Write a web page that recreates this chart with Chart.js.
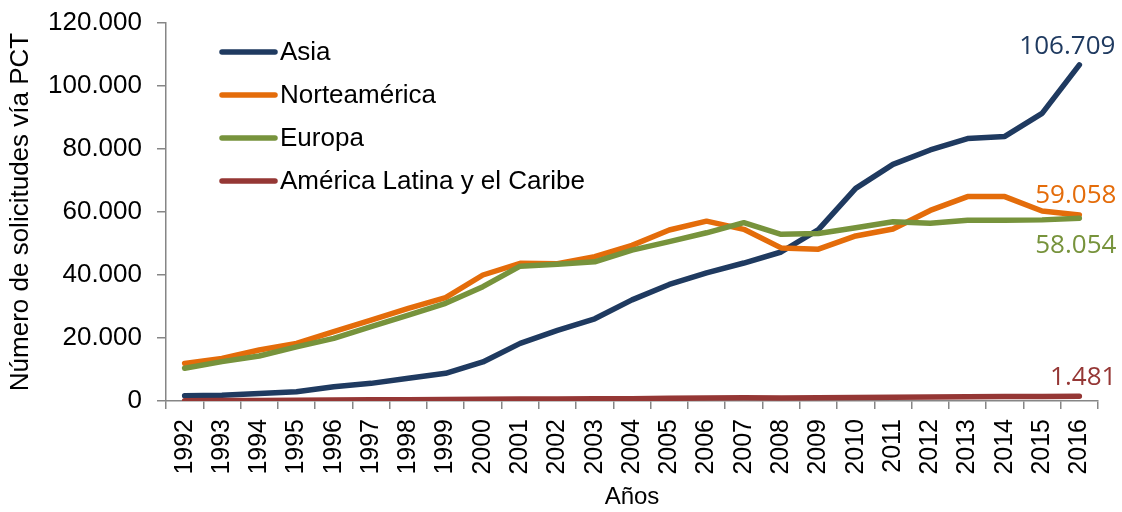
<!DOCTYPE html>
<html>
<head>
<meta charset="utf-8">
<script src="https://cdn.jsdelivr.net/npm/chart.js@4/dist/chart.umd.min.js"></script>
<style>
  html, body { margin: 0; padding: 0; background: #fff; }
  #wrap { width: 1122px; height: 512px; }
</style>
</head>
<body>
<div id="wrap"><canvas id="grafico" width="1122" height="512"></canvas></div>
<script>
const anios = ["1992","1993","1994","1995","1996","1997","1998","1999","2000","2001","2002","2003",
  "2004","2005","2006","2007","2008","2009","2010","2011","2012","2013","2014","2015","2016"];

const asia = [1700, 1800, 2400, 2950, 4500, 5600, 7200, 8800, 12400, 18300, 22400, 26100,
  32100, 37000, 40700, 43800, 47300, 54400, 67500, 75100, 79700, 83300, 84000, 91300, 106709];
const norteamerica = [11950, 13500, 16200, 18300, 22000, 25700, 29400, 32800, 40000, 43700, 43600, 45800,
  49400, 54300, 57100, 54500, 48600, 48200, 52400, 54600, 60500, 64900, 64900, 60300, 59058];
const europa = [10400, 12500, 14300, 17200, 19900, 23600, 27300, 31000, 36300, 42800, 43400, 44200,
  47900, 50600, 53400, 56600, 52900, 53200, 55000, 56900, 56400, 57400, 57400, 57500, 58054];
const latam = [100, 130, 170, 220, 300, 380, 420, 480, 550, 600, 620, 680,
  750, 860, 970, 1030, 980, 1020, 1080, 1200, 1250, 1350, 1400, 1420, 1481];

const series = ["Asia", "Norteamérica", "Europa", "América Latina y el Caribe"];
const colores = ["#1F3A60", "#E46C0A", "#77933C", "#953735"];

const miles = v => String(Math.round(v)).replace(/\B(?=(\d{3})+(?!\d))/g, ".");

// etiqueta del ultimo valor de cada serie
const etiquetas = {
  id: "etiquetas",
  afterDatasetsDraw(chart, args, opts) {
    const ctx = chart.ctx;
    ctx.save();
    ctx.font = "26px 'Open Sans'";
    ctx.textAlign = "right";
    ctx.textBaseline = "middle";
    chart.data.datasets.forEach((ds, i) => {
      const meta = chart.getDatasetMeta(i);
      const p = meta.data[meta.data.length - 1];
      const off = opts.desplaza[i];
      ctx.fillStyle = ds.borderColor;
      ctx.fillText(miles(ds.data[ds.data.length - 1]), p.x + off[0], p.y + off[1]);
    });
    ctx.restore();
  }
};

// leyenda dentro del area del grafico
const leyenda = {
  id: "leyenda",
  afterDraw(chart, args, opts) {
    const ctx = chart.ctx;
    ctx.save();
    ctx.font = "26px 'Liberation Sans'";
    ctx.textBaseline = "middle";
    ctx.lineCap = "round";
    chart.data.datasets.forEach((ds, i) => {
      const y = opts.y + i * opts.paso;
      ctx.strokeStyle = ds.borderColor;
      ctx.lineWidth = 5.5;
      ctx.beginPath();
      ctx.moveTo(opts.x, y);
      ctx.lineTo(opts.x + 53, y);
      ctx.stroke();
      ctx.fillStyle = "#000";
      ctx.fillText(ds.label, opts.x + 58, y + 1);
    });
    ctx.restore();
  }
};

const datos = [asia, norteamerica, europa, latam];
let canvas = document.getElementById("grafico").getContext("2d");
var chart = new Chart(canvas, {
  type: "line",
  data: {
    labels: anios,
    datasets: datos.map((d, i) => ({
      label: series[i],
      data: d,
      borderColor: colores[i],
      backgroundColor: colores[i],
      borderWidth: 5.5,
      borderCapStyle: "round",
      borderJoinStyle: "round",
      pointRadius: 0,
      tension: 0,
      order: 3 - i
    }))
  },
  options: {
    responsive: false,
    animation: false,
    layout: { padding: { top: 23, right: 24, left: 0, bottom: 0 } },
    plugins: {
      legend: { display: false },
      tooltip: { enabled: false },
      leyenda: { x: 222, y: 52, paso: 43 },
      etiquetas: { desplaza: [[36, -18], [37, -19], [37, 27], [37, -19]] }
    },
    scales: {
      x: {
        offset: true,
        afterFit: s => { s.height = 111; s.paddingLeft = 0; s.paddingRight = 0; },
        grid: { offset: true, drawOnChartArea: false, drawTicks: true, tickLength: 8, color: "#868686", lineWidth: 1.5 },
        border: { color: "#868686", width: 1.5 },
        ticks: { color: "#000", font: { family: "'Liberation Sans'", size: 25 }, minRotation: 90, maxRotation: 90, padding: 10, autoSkip: false },
        title: { display: true, text: "Años", color: "#000", font: { family: "'Liberation Sans'", size: 24 }, padding: { top: 0, bottom: 0 } }
      },
      y: {
        min: 0,
        max: 120000,
        afterFit: s => { s.width = 166; s.paddingTop = 0; s.paddingBottom = 0; },
        grid: { drawOnChartArea: false, drawTicks: true, tickLength: 9, color: "#868686", lineWidth: 1.5 },
        border: { color: "#868686", width: 1.5 },
        ticks: { stepSize: 20000, color: "#000", font: { family: "'Liberation Sans'", size: 26 }, padding: 15, callback: v => miles(v) },
        title: { display: true, text: "Número de solicitudes vía PCT", color: "#000", font: { family: "'Liberation Sans'", size: 26 }, padding: { top: 5, bottom: 0 } }
      }
    }
  },
  plugins: [etiquetas, leyenda]
});
</script>
</body>
</html>
